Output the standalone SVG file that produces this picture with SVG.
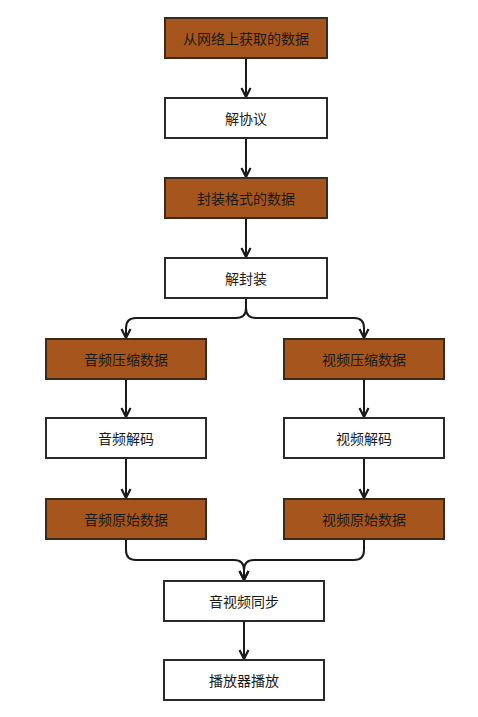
<svg xmlns="http://www.w3.org/2000/svg" width="478" height="717" viewBox="0 0 478 717">
<defs>
<style>
.b{fill:#a6561c;stroke:#3a2a1c;stroke-width:2}
.w{fill:#ffffff;stroke:#2a2a2a;stroke-width:2}
.t{font-family:"Noto Sans CJK SC","Noto Sans CJK JP",sans-serif;font-size:14px;fill:#1a1a1a;text-anchor:middle;dominant-baseline:central}
.c{fill:none;stroke:#1a1a1a;stroke-width:2;marker-end:url(#ah)}
</style>
<marker id="ah" viewBox="0 0 12 12" refX="11" refY="6" markerWidth="12" markerHeight="12" markerUnits="userSpaceOnUse" orient="auto">
<path d="M2,1.5 L11,6 L2,10.5" fill="none" stroke="#1a1a1a" stroke-width="2.2"/>
</marker>
</defs>
<rect width="478" height="717" fill="#ffffff"/>
<g id="connectors">
<path class="c" d="M246,58 L246,97"/>
<path class="c" d="M246,138 L246,177"/>
<path class="c" d="M246,218 L246,257"/>
<path class="c" d="M246,298 L246,308 Q246,318 236,318 L136,318 Q126,318 126,328 L126,338"/>
<path class="c" d="M246,298 L246,308 Q246,318 256,318 L354,318 Q364,318 364,328 L364,338"/>
<path class="c" d="M126,379 L126,417"/>
<path class="c" d="M364,379 L364,417"/>
<path class="c" d="M126,458 L126,498"/>
<path class="c" d="M364,458 L364,498"/>
<path class="c" d="M126,539 L126,550 Q126,560 136,560 L234,560 Q244,560 244,570 L244,580"/>
<path class="c" d="M364,539 L364,550 Q364,560 354,560 L254,560 Q244,560 244,570 L244,580"/>
<path class="c" d="M244,621 L244,659"/>
</g>
<g id="n1"><rect class="b" x="165" y="18" width="162" height="40"/><text class="t" x="246" y="38">从网络上获取的数据</text></g>
<g id="n2"><rect class="w" x="165" y="98" width="162" height="40"/><text class="t" x="246" y="118">解协议</text></g>
<g id="n3"><rect class="b" x="165" y="178" width="162" height="40"/><text class="t" x="246" y="198">封装格式的数据</text></g>
<g id="n4"><rect class="w" x="165" y="258" width="162" height="40"/><text class="t" x="246" y="278">解封装</text></g>
<g id="n5"><rect class="b" x="46" y="339" width="160" height="40"/><text class="t" x="126" y="359">音频压缩数据</text></g>
<g id="n6"><rect class="b" x="284" y="339" width="160" height="40"/><text class="t" x="364" y="359">视频压缩数据</text></g>
<g id="n7"><rect class="w" x="46" y="418" width="160" height="40"/><text class="t" x="126" y="438">音频解码</text></g>
<g id="n8"><rect class="w" x="284" y="418" width="160" height="40"/><text class="t" x="364" y="438">视频解码</text></g>
<g id="n9"><rect class="b" x="46" y="499" width="160" height="40"/><text class="t" x="126" y="519">音频原始数据</text></g>
<g id="n10"><rect class="b" x="284" y="499" width="160" height="40"/><text class="t" x="364" y="519">视频原始数据</text></g>
<g id="n11"><rect class="w" x="164" y="581" width="160" height="40"/><text class="t" x="244" y="601">音视频同步</text></g>
<g id="n12"><rect class="w" x="164" y="660" width="160" height="40"/><text class="t" x="244" y="680">播放器播放</text></g>
</svg>
